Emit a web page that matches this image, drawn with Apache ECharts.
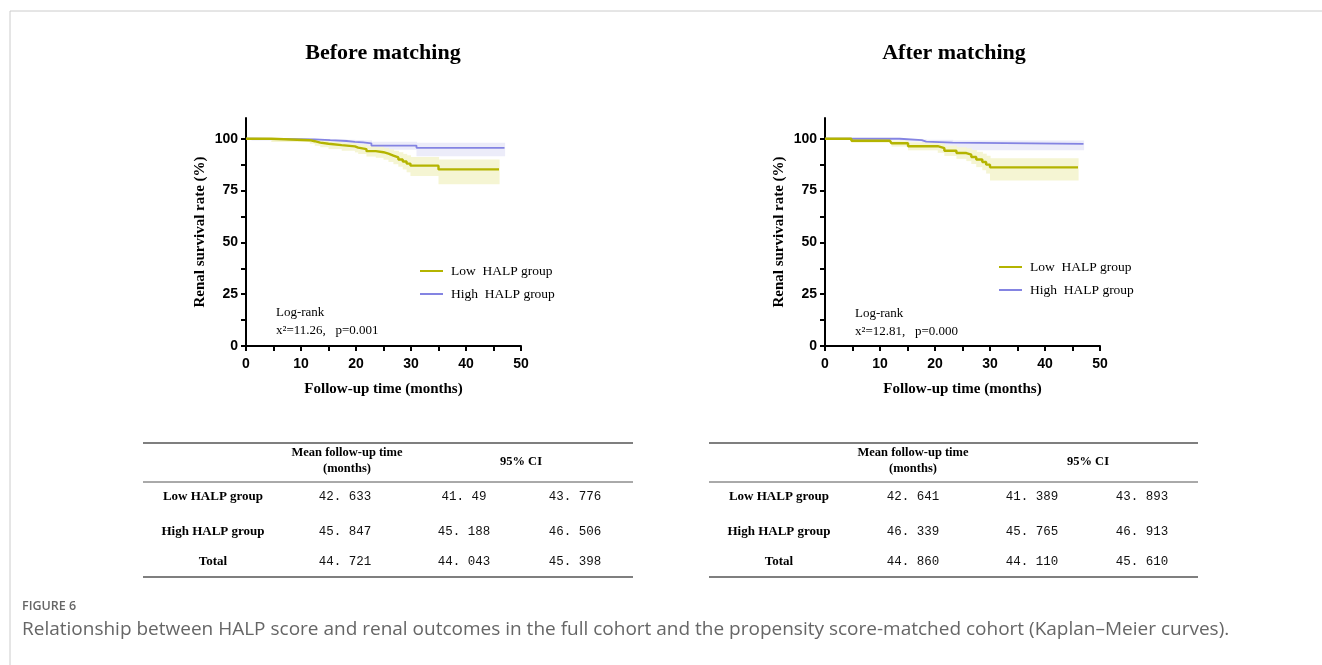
<!DOCTYPE html>
<html><head><meta charset="utf-8">
<script src="https://cdn.jsdelivr.net/npm/echarts@6/dist/echarts.min.js"></script>
<style>html,body{margin:0;padding:0;background:#fff;}#c{width:1322px;height:665px;}</style>
</head><body><div id="c"></div>
<script>
// ---------- data ----------
const panelTitles = ['Before matching', 'After matching'];
const groupNames = ['Low HALP group', 'High HALP group'];
const xTickValues = [0, 10, 20, 30, 40, 50];
const xMinorTickValues = [0, 5, 10, 15, 20, 25, 30, 35, 40, 45, 50];
const yTickValues = [0, 25, 50, 75, 100];
const yMinorTickValues = [0, 12.5, 25, 37.5, 50, 62.5, 75, 87.5, 100];
const logrankChi = ['11.26', '12.81'];
const logrankP = ['0.001', '0.000'];

// Before matching - Low HALP
const beforeLowT  = [0, 4.6, 11.6, 12.5, 13.5, 15, 17.4, 19.8, 20.4, 21.9, 23.6, 25.0, 25.9, 26.8, 27.7, 28.5, 29.2, 29.9, 35, 46];
const beforeLowS  = [100, 99.3, 98.8, 98.1, 97.6, 96.9, 96.3, 95.7, 95.0, 94.0, 93.5, 92.8, 91.9, 91.0, 90.0, 89.0, 88.0, 87.0, 85.2, 85.2];
const beforeLowLo = [100, 98.4, 97.6, 96.6, 95.9, 95.0, 94.2, 93.4, 92.6, 91.4, 90.8, 89.9, 88.8, 87.7, 86.5, 85.2, 83.8, 82.0, 78.0, 78.0];
const beforeLowHi = [100, 99.9, 99.6, 99.2, 99.0, 98.5, 98.1, 97.7, 97.2, 96.4, 96.0, 95.5, 94.9, 94.2, 93.5, 92.7, 92.0, 91.2, 90.0, 90.0];
// Before matching - High HALP
const beforeHighT  = [0, 1, 12.5, 15.3, 18.3, 19.8, 21.3, 22.8, 31, 47];
const beforeHighS  = [100, 99.7, 99.3, 98.9, 98.5, 98.2, 97.8, 96.7, 95.6, 95.6];
const beforeHighLo = [100, 99.1, 98.5, 97.9, 97.3, 96.8, 96.2, 94.7, 91.6, 91.6];
const beforeHighHi = [100, 100, 99.9, 99.7, 99.5, 99.4, 99.2, 98.6, 98.0, 98.0];
// After matching - Low HALP
const afterLowT  = [0, 4.8, 11.8, 12.1, 15.1, 20.5, 21.7, 23.9, 25.7, 26.6, 27.5, 28.6, 29.3, 30, 46];
const afterLowS  = [100, 99.0, 98.7, 97.8, 96.4, 95.5, 94.2, 93.1, 92.3, 91.2, 90.0, 88.8, 87.5, 86.2, 86.2];
const afterLowLo = [100, 98.0, 97.5, 96.2, 94.4, 93.2, 91.7, 90.3, 89.2, 87.8, 86.3, 84.8, 83.2, 79.8, 79.8];
const afterLowHi = [100, 99.8, 99.7, 99.2, 98.3, 97.8, 96.7, 95.9, 95.4, 94.6, 93.7, 92.8, 91.8, 90.6, 90.6];
// After matching - High HALP
const afterHighT  = [0, 13.6, 17.6, 18.4, 23.2, 47];
const afterHighS  = [100, 99.3, 98.6, 98.1, 97.5, 97.5];
const afterHighLo = [100, 98.6, 97.4, 96.6, 94.5, 94.5];
const afterHighHi = [100, 99.9, 99.7, 99.5, 99.2, 99.2];

// Tables
const tableRowLabels = ['Low HALP group', 'High HALP group', 'Total'];
const tableHeader = ['Mean follow-up time', '(months)', '95% CI'];
const beforeMean  = ['42. 633', '45. 847', '44. 721'];
const beforeCILo  = ['41. 49', '45. 188', '44. 043'];
const beforeCIHi  = ['43. 776', '46. 506', '45. 398'];
const afterMean   = ['42. 641', '46. 339', '44. 860'];
const afterCILo   = ['41. 389', '45. 765', '44. 110'];
const afterCIHi   = ['43. 893', '46. 913', '45. 610'];

const captionLabel = 'FIGURE 6';
const captionText = 'Relationship between HALP score and renal outcomes in the full cohort and the propensity score-matched cohort (Kaplan\u2013Meier curves).';

// ---------- styles ----------
const LOW_COLOR = '#b4b400';
const HIGH_COLOR = '#8484e2';
const LOW_BAND = '#f5f5d3';
const HIGH_BAND = '#ececf9';
const SERIF = '"Liberation Serif", "Times New Roman", serif';
const SANS = '"Liberation Sans", Arial, sans-serif';

const panels = [
  {title: panelTitles[0], left: 246, cx: 383,
   low: [beforeLowT, beforeLowS, beforeLowLo, beforeLowHi],
   high: [beforeHighT, beforeHighS, beforeHighLo, beforeHighHi],
   legendTop: 259, lrX: 276, lrY: 313},
  {title: panelTitles[1], left: 825, cx: 954,
   low: [afterLowT, afterLowS, afterLowLo, afterLowHi],
   high: [afterHighT, afterHighS, afterHighLo, afterHighHi],
   legendTop: 255, lrX: 855, lrY: 314}
];

const grids = [], xAxes = [], yAxes = [], series = [], legends = [], graphics = [];

function zip(a, b) { return a.map((v, i) => [v, b[i]]); }
// band rows: [tStart, tEnd, lower, upper] for each step interval
function bandRows(T, Lo, Hi) {
  const rows = [];
  for (let j = 0; j < T.length - 1; j++) rows.push([T[j], T[j + 1], Lo[j], Hi[j]]);
  return rows;
}

panels.forEach((p, i) => {
  grids.push({left: p.left, top: 118, width: 275, height: 228});
  xAxes.push({
    type: 'value', gridIndex: i, min: 0, max: 50, interval: 10,
    name: 'Follow-up time (months)', nameLocation: 'middle', nameGap: 36,
    nameTextStyle: {fontFamily: SERIF, fontWeight: 'bold', fontSize: 15, color: '#000'},
    axisLine: {show: true, lineStyle: {color: '#000', width: 2}},
    axisTick: {show: true, length: 5, lineStyle: {color: '#000', width: 2}, customValues: xMinorTickValues},
    axisLabel: {fontFamily: SANS, fontWeight: 'bold', fontSize: 14, color: '#000', margin: 11, customValues: xTickValues},
    splitLine: {show: false}
  });
  yAxes.push({
    type: 'value', gridIndex: i, min: 0, max: 110,
    name: 'Renal survival rate (%)', nameLocation: 'middle', nameGap: 38,
    nameTextStyle: {fontFamily: SERIF, fontWeight: 'bold', fontSize: 15, color: '#000'},
    axisLine: {show: true, lineStyle: {color: '#000', width: 2}},
    axisTick: {show: true, length: 5, lineStyle: {color: '#000', width: 2}, customValues: yMinorTickValues},
    axisLabel: {fontFamily: SANS, fontWeight: 'bold', fontSize: 14, color: '#000', margin: 8, customValues: yTickValues},
    splitLine: {show: false}
  });
  [['high', HIGH_BAND], ['low', LOW_BAND]].forEach(([k, band]) => {
    const [T, S, Lo, Hi] = p[k];
    series.push({
      type: 'custom', coordinateSystem: 'cartesian2d', xAxisIndex: i, yAxisIndex: i,
      silent: true, z: 1,
      data: bandRows(T, Lo, Hi),
      encode: {x: [0, 1], y: [2, 3]},
      renderItem: function (params, api) {
        const a = api.coord([api.value(0), api.value(3)]);
        const b = api.coord([api.value(1), api.value(2)]);
        return {type: 'rect', shape: {x: a[0], y: a[1], width: b[0] - a[0] + 0.6, height: b[1] - a[1]},
                style: {fill: band}};
      }
    });
  });
  [['high', HIGH_COLOR, groupNames[1], 1.8], ['low', LOW_COLOR, groupNames[0], 2.4]].forEach(([k, col, name, w]) => {
    const [T, S] = p[k];
    series.push({
      name: name, type: 'line', xAxisIndex: i, yAxisIndex: i, step: 'end',
      data: zip(T, S), symbol: 'none', z: 3, color: col,
      lineStyle: {color: col, width: w}
    });
  });
  legends.push({
    orient: 'vertical', left: p.left + 169, top: p.legendTop, itemGap: 9,
    icon: 'rect', itemWidth: 23, itemHeight: 2, selectedMode: false,
    data: groupNames,
    formatter: n => n.replace(' ', '  '),
    textStyle: {fontFamily: SERIF, fontSize: 13.5, color: '#000', padding: [0, 0, 0, 3]}
  });
  graphics.push({type: 'text', style: {text: p.title, x: p.cx, y: 53, align: 'center', verticalAlign: 'middle',
    font: 'bold 22px ' + SERIF, fill: '#000'}});
  graphics.push({type: 'text', style: {text: 'Log-rank', x: p.lrX, y: p.lrY, align: 'left', verticalAlign: 'middle',
    font: '13px ' + SERIF, fill: '#000'}});
  graphics.push({type: 'text', style: {text: 'x\u00b2=' + logrankChi[i] + ',   p=' + logrankP[i], x: p.lrX, y: p.lrY + 18, align: 'left', verticalAlign: 'middle',
    font: '13px ' + SERIF, fill: '#000'}});
});

// Tables
const tables = [
  {x0: 143, x1: 633, labX: 213, hdrX: 347, ciX: 521, cols: [345, 464, 575], vals: [beforeMean, beforeCILo, beforeCIHi]},
  {x0: 709, x1: 1198, labX: 779, hdrX: 913, ciX: 1088, cols: [913, 1032, 1142], vals: [afterMean, afterCILo, afterCIHi]}
];
const rowY = [497, 532, 562];
tables.forEach(t => {
  [[443, 1.6], [482, 1], [577, 1.6]].forEach(([y, w]) => {
    graphics.push({type: 'line', shape: {x1: t.x0, y1: y, x2: t.x1, y2: y}, style: {stroke: '#555', lineWidth: w}});
  });
  graphics.push({type: 'text', style: {text: tableHeader[0], x: t.hdrX, y: 453, align: 'center', verticalAlign: 'middle', font: 'bold 12.5px ' + SERIF, fill: '#000'}});
  graphics.push({type: 'text', style: {text: tableHeader[1], x: t.hdrX, y: 469, align: 'center', verticalAlign: 'middle', font: 'bold 12.5px ' + SERIF, fill: '#000'}});
  graphics.push({type: 'text', style: {text: tableHeader[2], x: t.ciX, y: 462, align: 'center', verticalAlign: 'middle', font: 'bold 12.5px ' + SERIF, fill: '#000'}});
  tableRowLabels.forEach((lab, r) => {
    graphics.push({type: 'text', style: {text: lab, x: t.labX, y: rowY[r], align: 'center', verticalAlign: 'middle', font: 'bold 13px ' + SERIF, fill: '#000'}});
    t.vals.forEach((col, c) => {
      graphics.push({type: 'text', style: {text: col[r], x: t.cols[c], y: rowY[r], align: 'center', verticalAlign: 'middle', font: '12.5px "Liberation Mono", monospace', fill: '#111'}});
    });
  });
});

// Frame & caption
graphics.push({type: 'line', shape: {x1: 10, y1: 11, x2: 1322, y2: 11}, style: {stroke: '#cccccc', lineWidth: 1}});
graphics.push({type: 'line', shape: {x1: 10, y1: 11, x2: 10, y2: 665}, style: {stroke: '#cccccc', lineWidth: 1}});
graphics.push({type: 'text', style: {text: captionLabel, x: 22, y: 606, align: 'left', verticalAlign: 'middle', font: '600 12.5px "Open Sans", sans-serif', fill: '#666'}});
graphics.push({type: 'text', style: {text: captionText, x: 22, y: 630, align: 'left', verticalAlign: 'middle', font: '19px "Open Sans", sans-serif', fill: '#666'}});

const chart = echarts.init(document.getElementById('c'), null, {renderer: 'canvas'});
chart.setOption({
  animation: false,
  backgroundColor: '#fff',
  grid: grids, xAxis: xAxes, yAxis: yAxes, series: series, legend: legends,
  graphic: {elements: graphics}
});
</script>
</body></html>
